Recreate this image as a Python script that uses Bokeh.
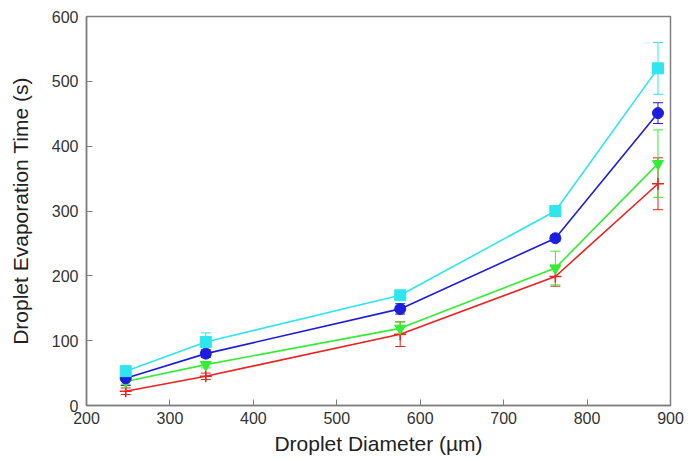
from bokeh.plotting import figure
from bokeh.models import ColumnDataSource, Whisker, TeeHead, FixedTicker, Range1d
from bokeh.embed import file_html
from bokeh.resources import INLINE

diameter = [247, 343, 576, 762, 885]

cyan_vals = [53, 98, 170, 300, 520]
cyan_err = [4, 14, 5, 5, 40]
blue_vals = [42, 80, 149, 258, 451]
blue_err = [11, 6, 8, 5, 16]
green_vals = [37, 63, 119, 212, 373]
green_err = [4, 5, 10, 26, 52]
red_vals = [22, 45, 110, 199, 342]
red_err = [5, 5, 19, 15, 40]

x_ticks = [200, 300, 400, 500, 600, 700, 800, 900]
y_ticks = [0, 100, 200, 300, 400, 500, 600]

FONT = "Liberation Sans"

p = figure(width=695, height=460, output_backend="svg", toolbar_location=None,
           x_range=Range1d(200, 900), y_range=Range1d(0, 600),
           min_border_left=86, min_border_right=25, min_border_top=16, min_border_bottom=55)

p.xgrid.visible = False
p.ygrid.visible = False
p.outline_line_color = "#7f7f7f"
p.outline_line_width = 1.5

for ax in (p.xaxis[0], p.yaxis[0]):
    ax.axis_line_color = "#7f7f7f"
    ax.axis_line_width = 1.5
    ax.major_tick_in = 6
    ax.major_tick_out = 0
    ax.major_tick_line_color = "#7f7f7f"
    ax.minor_tick_line_color = None
    ax.major_label_text_font = FONT
    ax.major_label_text_font_size = "16px"
    ax.major_label_text_color = "#333333"
    ax.axis_label_text_font = FONT
    ax.axis_label_text_font_size = "21px"
    ax.axis_label_text_font_style = "normal"
    ax.axis_label_text_color = "#222222"

p.xaxis.ticker = FixedTicker(ticks=x_ticks)
p.yaxis.ticker = FixedTicker(ticks=y_ticks)
p.xaxis.axis_label = "Droplet Diameter (µm)"
p.yaxis.axis_label = "Droplet Evaporation Time (s)"
p.xaxis.major_label_standoff = 6
p.yaxis.major_label_standoff = 8
p.xaxis.axis_label_standoff = 5
p.yaxis.axis_label_standoff = 17

series = [
    ("cyan", cyan_vals, cyan_err, "#2ee6ee", "square"),
    ("blue", blue_vals, blue_err, "#1d1de0", "circle"),
    ("green", green_vals, green_err, "#33ee33", "inverted_triangle"),
    ("red", red_vals, red_err, "#ee2020", "cross"),
]

sources = {}
for name, vals, err, color, marker in series:
    src = ColumnDataSource(dict(
        x=diameter, y=vals,
        lower=[v - e for v, e in zip(vals, err)],
        upper=[v + e for v, e in zip(vals, err)],
    ))
    sources[name] = src
    p.line("x", "y", source=src, line_color=color, line_width=1.6)

for name, vals, err, color, marker in reversed(series):
    src = sources[name]
    w = Whisker(base="x", upper="upper", lower="lower", source=src,
                line_color=color, line_width=1,
                upper_head=TeeHead(size=10, line_color=color, line_width=1),
                lower_head=TeeHead(size=10, line_color=color, line_width=1))
    p.add_layout(w)

for name, vals, err, color, marker in reversed(series):
    src = sources[name]
    if marker == "cross":
        p.scatter("x", "y", source=src, marker="cross", size=12,
                  line_color=color, line_width=1.5)
    else:
        p.scatter("x", "y", source=src, marker=marker, size=11,
                  fill_color=color, line_color=color)

open("out.html", "w").write(file_html(p, INLINE))
